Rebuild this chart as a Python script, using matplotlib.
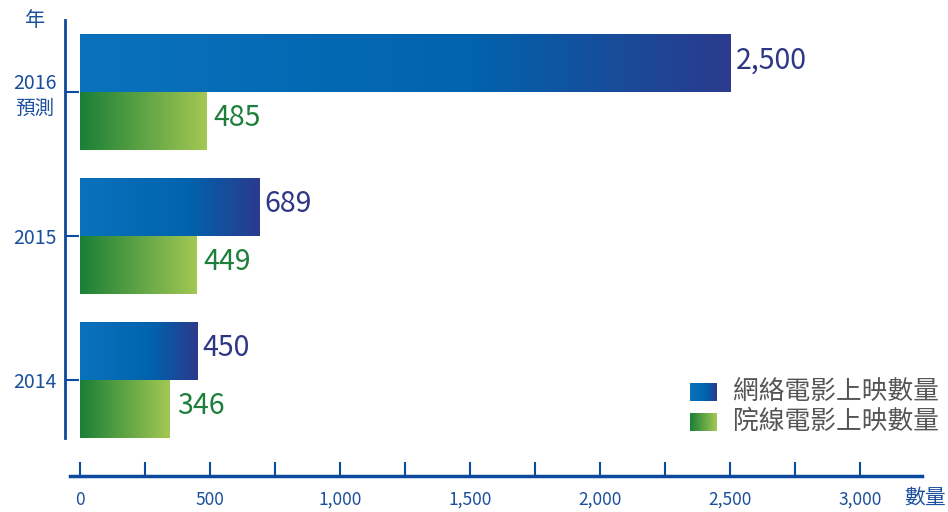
import numpy as np
import matplotlib
matplotlib.use("Agg")
import matplotlib.pyplot as plt
from matplotlib.colors import LinearSegmentedColormap

plt.rcParams['font.family'] = ['Noto Sans CJK TC', 'DejaVu Sans']

# ── Data ─────────────────────────────────────────────────────────────────────
years = ["2014", "2015", "2016\n預測"]
online = [450, 689, 2500]      # 網絡電影上映數量
cinema = [346, 449, 485]       # 院線電影上映數量
series_names = ["網絡電影上映數量", "院線電影上映數量"]
x_ticks = [0, 500, 1000, 1500, 2000, 2500, 3000]
x_ticklabels = ["0", "500", "1,000", "1,500", "2,000", "2,500", "3,000"]

# ── Style ────────────────────────────────────────────────────────────────────
AXIS_C = "#0b4a9c"
TICK_C = "#1a4f9c"
BLUE_TXT = "#2e3785"
GREEN_TXT = "#1e7f3c"
blue_cmap = LinearSegmentedColormap.from_list(
    "blue", [(0, "#0a72bd"), (0.6, "#0063ad"), (1.0, "#2b3a8c")])
green_cmap = LinearSegmentedColormap.from_list(
    "green", [(0, "#1a7f37"), (1.0, "#a3c853")])
grad = np.linspace(0, 1, 256).reshape(1, -1)

W, H = 948, 512
fig = plt.figure(figsize=(W / 100, H / 100), dpi=100, facecolor="white")
# axes: left edge at px 65, right at 922, top at 20, bottom at 438
ax = fig.add_axes([65 / W, 1 - 438 / H, (922 - 65) / W, (438 - 20) / H])
ax.set_facecolor("none")

bh = 0.40
pos = np.arange(len(years))
for y, v_on, v_ci in zip(pos, online, cinema):
    ax.imshow(grad, cmap=blue_cmap, aspect="auto",
              extent=(0, v_on, y, y + bh), zorder=2)
    ax.imshow(grad, cmap=green_cmap, aspect="auto",
              extent=(0, v_ci, y - bh, y), zorder=2)
    ax.annotate(f"{v_on:,}", (v_on, y + bh / 2 + 0.02), xytext=(4, 0),
                textcoords="offset points", ha="left", va="center",
                fontsize=20.5, color=BLUE_TXT)
    ax.annotate(f"{v_ci:,}", (v_ci, y - bh / 2 + 0.02), xytext=(5, 0),
                textcoords="offset points", ha="left", va="center",
                fontsize=20.5, color=GREEN_TXT)

ax.set_xlim(-57.7, 3238)
ax.set_ylim(-bh - 0.003, 2.5)

# spines
for s in ["top", "right"]:
    ax.spines[s].set_visible(False)
ax.spines["left"].set_color(AXIS_C)
ax.spines["left"].set_linewidth(2)
ax.spines["bottom"].set_color(AXIS_C)
ax.spines["bottom"].set_linewidth(2.5)
ax.spines["bottom"].set_position(("outward", 27))
ax.spines["bottom"].set_bounds(-38.5, 3238)

ax.set_xticks(x_ticks)
ax.set_xticklabels(x_ticklabels)
ax.set_xticks(np.arange(250, 3000, 500), minor=True)
ax.tick_params(axis="x", which="both", direction="in", length=10, width=1.5,
               color=AXIS_C, labelcolor=TICK_C, labelsize=12.5, pad=11)

ax.set_yticks(pos)
ax.set_yticklabels(years)
ax.tick_params(axis="y", direction="in", length=10, width=1.5,
               color=AXIS_C, labelcolor=TICK_C, labelsize=14, pad=6)
for lab in ax.get_yticklabels():
    lab.set_multialignment("center")

fig.text(35 / W, 1 - 20 / H, "年", ha="center", va="center",
         fontsize=14.5, color=TICK_C)
fig.text(925 / W, 1 - 498 / H, "數量", ha="center", va="center",
         fontsize=15, color=TICK_C)

# legend with gradient swatches
for i, (name, cm) in enumerate(zip(series_names, [blue_cmap, green_cmap])):
    top = 383 + i * 30
    sax = fig.add_axes([690 / W, 1 - (top + 18) / H, 27 / W, 18 / H])
    sax.imshow(grad, cmap=cm, aspect="auto")
    sax.axis("off")
    fig.text(733 / W, 1 - (top + 9) / H, name, ha="left", va="center",
             fontsize=18.5, color="#555555")

fig.savefig("out.png", dpi=100, facecolor=fig.get_facecolor())
